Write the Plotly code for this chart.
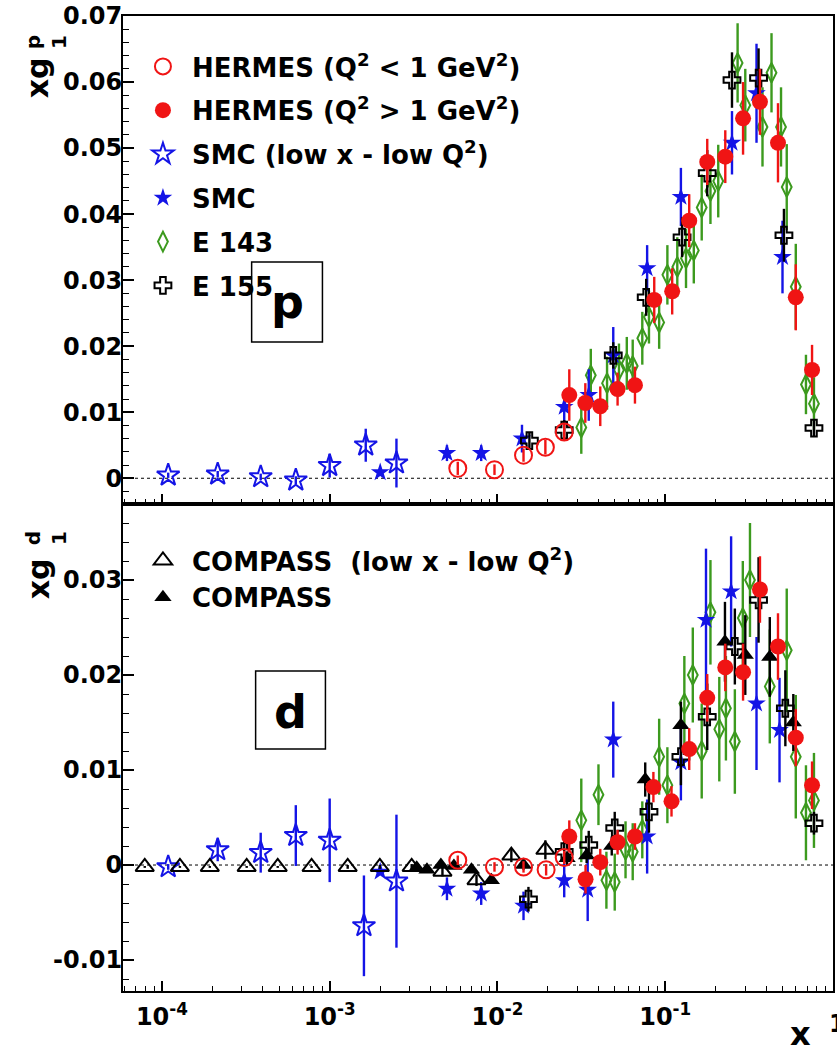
import plotly.graph_objects as go

# ---------------- proton panel data ----------------
p_hermes_lowq_x = [0.0058, 0.0096, 0.0143, 0.0193, 0.025]
p_hermes_lowq_y = [0.0015, 0.0013, 0.0035, 0.0047, 0.0070]
p_hermes_lowq_e = [0.0010, 0.0008, 0.0010, 0.0011, 0.0012]

p_hermes_x = [0.0268, 0.0334, 0.041, 0.052, 0.066, 0.086, 0.110, 0.139, 0.178, 0.228, 0.291, 0.367, 0.47, 0.60, 0.75]
p_hermes_y = [0.0126, 0.0114, 0.0109, 0.0135, 0.0141, 0.0270, 0.0283, 0.0390, 0.0479, 0.0487, 0.0545, 0.0570, 0.0508, 0.0274, 0.0164]
p_hermes_e = [0.0039, 0.0030, 0.0030, 0.0025, 0.0028, 0.0035, 0.0035, 0.0040, 0.0035, 0.0040, 0.0055, 0.0050, 0.0060, 0.0050, 0.0038]

p_smc_lowx_x = [1.09e-4, 2.15e-4, 3.88e-4, 6.28e-4, 1.0e-3, 1.64e-3, 2.5e-3]
p_smc_lowx_y = [0.00045, 0.0006, 0.0002, -0.0003, 0.0019, 0.0050, 0.0023]
p_smc_lowx_e = [0.0004, 0.0005, 0.0005, 0.0006, 0.0018, 0.0025, 0.0037]

p_smc_x = [2.0e-3, 5.0e-3, 8.0e-3, 0.014, 0.025, 0.035, 0.049, 0.078, 0.124, 0.25, 0.35, 0.50]
p_smc_y = [0.0009, 0.0038, 0.0038, 0.0060, 0.0108, 0.0126, 0.0186, 0.0318, 0.0426, 0.0508, 0.0583, 0.0335]
p_smc_e = [0.0003, 0.0012, 0.0012, 0.0021, 0.0025, 0.0039, 0.0043, 0.0035, 0.0044, 0.0048, 0.0075, 0.0055]

p_e143_x = [0.0316, 0.036, 0.045, 0.053, 0.059, 0.064, 0.073, 0.080, 0.092, 0.103, 0.118, 0.133, 0.148,
            0.165, 0.186, 0.207, 0.27, 0.30, 0.38, 0.43, 0.49, 0.53, 0.60, 0.69, 0.77]
p_e143_y = [0.0077, 0.0156, 0.0144, 0.0164, 0.0174, 0.0170, 0.0212, 0.0244, 0.0236, 0.0308, 0.0320, 0.0333, 0.0345,
            0.0410, 0.0435, 0.0450, 0.0629, 0.0565, 0.0532, 0.0614, 0.0532, 0.0441, 0.0290, 0.0142, 0.0113]
p_e143_e = [0.0040, 0.0040, 0.0040, 0.0040, 0.0040, 0.0040, 0.0040, 0.0040, 0.0040, 0.0045, 0.0045, 0.0045, 0.0050,
            0.0050, 0.0050, 0.0055, 0.0060, 0.0055, 0.0060, 0.0060, 0.0060, 0.0065, 0.0065, 0.0045, 0.0040]

p_e155_x = [0.0155, 0.025, 0.049, 0.077, 0.126, 0.178, 0.25, 0.36, 0.51, 0.77]
p_e155_y = [0.0057, 0.0073, 0.0186, 0.0274, 0.0365, 0.0462, 0.0603, 0.0606, 0.0368, 0.0076]
p_e155_e = [0.0012, 0.0015, 0.0020, 0.0028, 0.0030, 0.0035, 0.0042, 0.0045, 0.0040, 0.0012]

# ---------------- deuteron panel data ----------------
d_hermes_lowq_x = [0.0058, 0.0096, 0.0143, 0.0195, 0.025]
d_hermes_lowq_y = [0.0005, -0.0002, -0.0002, -0.0005, 0.0008]
d_hermes_lowq_e = [0.0005, 0.0005, 0.0006, 0.0006, 0.0007]

d_hermes_x = [0.0268, 0.0335, 0.041, 0.052, 0.066, 0.085, 0.109, 0.139, 0.178, 0.228, 0.291, 0.367, 0.47, 0.60, 0.75]
d_hermes_y = [0.0030, -0.0015, 0.0003, 0.0024, 0.0030, 0.0082, 0.0067, 0.0122, 0.0176, 0.0208, 0.0203, 0.0290, 0.0230, 0.0134, 0.0084]
d_hermes_e = [0.0017, 0.0015, 0.0014, 0.0013, 0.0014, 0.0016, 0.0016, 0.0022, 0.0025, 0.0025, 0.0030, 0.0035, 0.0035, 0.0030, 0.0025]

d_smc_lowx_x = [1.09e-4, 2.15e-4, 3.88e-4, 6.28e-4, 1.0e-3, 1.6e-3, 2.5e-3]
d_smc_lowx_y = [-0.0002, 0.0016, 0.0013, 0.0031, 0.0026, -0.0064, -0.0017]
d_smc_lowx_e = [0.0003, 0.0012, 0.0021, 0.0032, 0.0044, 0.0053, 0.0070]

d_smc_x = [2.0e-3, 5.0e-3, 8.0e-3, 0.0143, 0.025, 0.0345, 0.049, 0.078, 0.124, 0.175, 0.247, 0.35, 0.48]
d_smc_y = [-0.0007, -0.0025, -0.0030, -0.0043, -0.0016, -0.0026, 0.0132, 0.0030, 0.0108, 0.0258, 0.0288, 0.0170, 0.0142]
d_smc_e = [0.0003, 0.0012, 0.0012, 0.0015, 0.0018, 0.0033, 0.0040, 0.0039, 0.0040, 0.0075, 0.0058, 0.0070, 0.0055]

d_e143_x = [0.0316, 0.040, 0.0446, 0.050, 0.058, 0.064, 0.073, 0.092, 0.103, 0.13, 0.146, 0.165, 0.186,
            0.21, 0.23, 0.26, 0.29, 0.32, 0.42, 0.53, 0.60, 0.69, 0.77]
d_e143_y = [0.0047, 0.0074, -0.0016, -0.0018, 0.0016, 0.0014, 0.0037, 0.0114, 0.0084, 0.0170, 0.0200, 0.0120, 0.0266,
            0.0143, 0.0165, 0.0130, 0.0260, 0.0300, 0.0188, 0.0226, 0.0114, 0.0055, 0.0068]
d_e143_e = [0.0044, 0.0032, 0.0030, 0.0030, 0.0030, 0.0030, 0.0030, 0.0040, 0.0040, 0.0050, 0.0050, 0.0050, 0.0055,
            0.0055, 0.0055, 0.0055, 0.0060, 0.0060, 0.0060, 0.0065, 0.0065, 0.0050, 0.0050]

d_e155_x = [0.0153, 0.025, 0.035, 0.050, 0.080, 0.124, 0.178, 0.26, 0.36, 0.52, 0.77]
d_e155_y = [-0.0036, 0.0014, 0.0021, 0.0039, 0.0056, 0.0114, 0.0156, 0.0230, 0.0279, 0.0165, 0.0044]
d_e155_e = [0.0013, 0.0012, 0.0015, 0.0017, 0.0022, 0.0030, 0.0035, 0.0040, 0.0045, 0.0040, 0.0012]

d_compass_lowx_x = [7.9e-5, 1.28e-4, 1.93e-4, 3.2e-4, 4.9e-4, 7.8e-4, 1.28e-3, 1.99e-3, 3.08e-3, 4.7e-3, 7.5e-3, 0.0121, 0.0193]
d_compass_lowx_y = [-0.0002, -0.0002, -0.0002, -0.0002, -0.0002, -0.0002, -0.0002, -0.0002, -0.0002, -0.0007, -0.0016, 0.0010, 0.0016]
d_compass_lowx_e = [0.0001, 0.0001, 0.0001, 0.0001, 0.0001, 0.0001, 0.0002, 0.0002, 0.0003, 0.0005, 0.0006, 0.0007, 0.0010]

d_compass_x = [3.3e-3, 3.8e-3, 4.6e-3, 5.5e-3, 7.0e-3, 9.2e-3, 0.0143, 0.026, 0.034, 0.048, 0.076, 0.124, 0.227, 0.30, 0.42, 0.58]
d_compass_y = [-0.0003, -0.0005, 0.0000, -0.0001, -0.0005, -0.0016, 0.0000, 0.0007, 0.0010, 0.0020, 0.0090, 0.0147, 0.0235, 0.0221, 0.0219, 0.0150]
d_compass_e = [0.0002, 0.0002, 0.0002, 0.0002, 0.0003, 0.0004, 0.0005, 0.0007, 0.0008, 0.0010, 0.0018, 0.0025, 0.0042, 0.0042, 0.0042, 0.0030]

# axis ticks
x_tickvals = [1e-4, 1e-3, 1e-2, 1e-1]
x_ticktext = ["10<sup>-4</sup>", "10<sup>-3</sup>", "10<sup>-2</sup>", "10<sup>-1</sup>"]
x_minor = [k * 10.0 ** n for n in range(-5, 0) for k in range(2, 10)]
p_tickvals = [0, 0.01, 0.02, 0.03, 0.04, 0.05, 0.06, 0.07]
p_ticktext = ["0", "0.01", "0.02", "0.03", "0.04", "0.05", "0.06", "0.07"]
d_tickvals = [-0.01, 0, 0.01, 0.02, 0.03]
d_ticktext = ["-0.01", "0", "0.01", "0.02", "0.03"]

# colours
RED = "#f01414"
BLUE = "#1414e6"
GREEN = "#3c9a1e"
BLACK = "#000000"
FONT = "DejaVu Sans"

# ---- layout geometry (pixels) ----
W, H = 837, 1056
L, R, T, B, MID = 123, 835, 16, 991, 504


def pxx(px):
    return (px - L) / (R - L)


def pxy(py):
    return (B - py) / (B - T)


fig = go.Figure()


def add(x, y, e, name, symbol, color, size, panel, legend=None, rank=None, lw=2):
    xa, ya = ("x", "y") if panel == "p" else ("x2", "y2")
    fig.add_trace(go.Scatter(
        x=x, y=y, mode="markers", name=name,
        xaxis=xa, yaxis=ya,
        marker=dict(symbol=symbol, color=color, size=size,
                    line=dict(color=color, width=lw)),
        error_y=dict(type="data", array=e, visible=True, color=color, thickness=2.4, width=0),
        showlegend=legend is not None,
        legend=legend if legend else "legend",
        legendgroup=(name + panel) if legend else None,
        legendrank=rank if rank else 1000,
    ))


NB = "\u00a0"
# proton panel (draw order: E143, SMC, E155, HERMES)
add(p_e143_x, p_e143_y, p_e143_e, NB + "E 143", "diamond-tall-open", GREEN, 14, "p", "legend", 5)
add(p_smc_lowx_x, p_smc_lowx_y, p_smc_lowx_e, NB + "SMC (low x - low Q<sup>2</sup>)", "star-open", BLUE, 17, "p", "legend", 3)
add(p_smc_x, p_smc_y, p_smc_e, NB + "SMC", "star", BLUE, 14, "p", "legend", 4, lw=0)
add(p_e155_x, p_e155_y, p_e155_e, NB + "E 155", "cross-open", BLACK, 14, "p", "legend", 6)
add(p_hermes_lowq_x, p_hermes_lowq_y, p_hermes_lowq_e, NB + "HERMES (Q<sup>2</sup> &lt; 1 GeV<sup>2</sup>)", "circle-open", RED, 17, "p", "legend", 1)
add(p_hermes_x, p_hermes_y, p_hermes_e, NB + "HERMES (Q<sup>2</sup> &gt; 1 GeV<sup>2</sup>)", "circle", RED, 16, "p", "legend", 2, lw=0)

# deuteron panel
add(d_e143_x, d_e143_y, d_e143_e, "E 143", "diamond-tall-open", GREEN, 14, "d")
add(d_smc_lowx_x, d_smc_lowx_y, d_smc_lowx_e, "SMC low x", "star-open", BLUE, 17, "d")
add(d_smc_x, d_smc_y, d_smc_e, "SMC", "star", BLUE, 14, "d", lw=0)
add(d_compass_lowx_x, d_compass_lowx_y, d_compass_lowx_e, NB + "COMPASS  (low x - low Q<sup>2</sup>)", "triangle-up-open", BLACK, 16, "d", "legend2", 1)
add(d_compass_x, d_compass_y, d_compass_e, NB + "COMPASS", "triangle-up", BLACK, 15, "d", "legend2", 2, lw=0)
add(d_e155_x, d_e155_y, d_e155_e, "E 155", "cross-open", BLACK, 14, "d")
add(d_hermes_lowq_x, d_hermes_lowq_y, d_hermes_lowq_e, "HERMES low Q2", "circle-open", RED, 17, "d")
add(d_hermes_x, d_hermes_y, d_hermes_e, "HERMES", "circle", RED, 16, "d", lw=0)

split = pxy(MID)
tickfont = dict(family=FONT, size=24, color="black", weight="bold")
xcommon = dict(type="log", range=[-4.232, 0.0], showgrid=False, zeroline=False,
               showline=True, linecolor="black", linewidth=2, mirror=True,
               ticks="inside", ticklen=10, tickwidth=1.5, tickcolor="black",
               tickvals=x_tickvals, ticktext=x_ticktext,
               minor=dict(ticks="inside", ticklen=5, tickwidth=1.2, tickcolor="black",
                          tickmode="array", tickvals=x_minor, showgrid=False))
ycommon = dict(showgrid=False, zeroline=False, showline=True, linecolor="black", linewidth=2,
               mirror=True, ticks="inside", ticklen=11, tickwidth=1.5, tickcolor="black",
               tickfont=tickfont, ticklabelstandoff=-6,
               minor=dict(ticks="inside", ticklen=6, tickwidth=1.2, tickcolor="black",
                          dtick=0.002, showgrid=False))

legfont = dict(family=FONT, size=26, color="black", weight="bold")
fig.update_layout(
    width=W, height=H,
    margin=dict(l=L, r=W - R, t=T, b=H - B, pad=0),
    paper_bgcolor="white", plot_bgcolor="white",
    font=dict(family=FONT, color="black"),
    xaxis=dict(xcommon, domain=[0, 1], anchor="y", showticklabels=False),
    xaxis2=dict(xcommon, domain=[0, 1], anchor="y2", matches="x", showticklabels=True,
                ticklabelstandoff=3,
                tickfont=dict(family=FONT, size=24, color="black", weight="bold")),
    yaxis=dict(ycommon, domain=[split, 1], anchor="x", range=[-0.0039, 0.0700],
               tickvals=p_tickvals, ticktext=p_ticktext),
    yaxis2=dict(ycommon, domain=[0, split], anchor="x2", range=[-0.01326, 0.0380],
                tickvals=d_tickvals, ticktext=d_ticktext),
    legend=dict(x=pxx(143), y=pxy(43), xanchor="left", yanchor="top",
                bgcolor="rgba(0,0,0,0)", borderwidth=0, font=legfont,
                tracegroupgap=7, itemsizing="trace"),
    legend2=dict(x=pxx(143), y=pxy(537), xanchor="left", yanchor="top",
                 bgcolor="rgba(0,0,0,0)", borderwidth=0, font=legfont,
                 tracegroupgap=0, itemsizing="trace"),
)

# dotted zero lines
for yref, xref in (("y", "x domain"), ("y2", "x2 domain")):
    fig.add_shape(type="line", xref=xref, yref=yref, x0=0, x1=1, y0=0, y1=0,
                  line=dict(color="black", width=1, dash="dot"), layer="below")

# panel label boxes
fig.add_shape(type="rect", xref="paper", yref="paper", x0=pxx(252), x1=pxx(323), y0=pxy(342), y1=pxy(262),
              line=dict(color="black", width=1.5))
fig.add_shape(type="rect", xref="paper", yref="paper", x0=pxx(256), x1=pxx(326), y0=pxy(749), y1=pxy(671),
              line=dict(color="black", width=1.5))

ann_font = dict(family=FONT, color="black", weight="bold")
annotations = [
    dict(text="p", x=pxx(288), y=pxy(302), font=dict(ann_font, size=46)),
    dict(text="d", x=pxx(291), y=pxy(712), font=dict(ann_font, size=46)),
    dict(text="x", x=pxx(802), y=pxy(1034), font=dict(ann_font, size=32)),
    dict(text="1", x=pxx(829), y=pxy(1024), xanchor="left", font=dict(ann_font, size=24)),
    # y-axis titles: "xg" plus stacked super/subscript (two lines rotated)
    dict(text="xg", x=pxx(38), y=pxy(78), textangle=-90, font=dict(ann_font, size=30)),
    dict(text="p<br>1", x=pxx(46), y=pxy(42), textangle=-90, font=dict(ann_font, size=20)),
    dict(text="xg", x=pxx(38), y=pxy(579), textangle=-90, font=dict(ann_font, size=30)),
    dict(text="d<br>1", x=pxx(46), y=pxy(538), textangle=-90, font=dict(ann_font, size=20)),
]
for a in annotations:
    a.update(xref="paper", yref="paper", showarrow=False,
             xanchor=a.get("xanchor", "center"), yanchor="middle")
    fig.add_annotation(**a)

fig.write_html("out.html", post_script="document.body.style.margin='0';",
               config={"displayModeBar": False})
